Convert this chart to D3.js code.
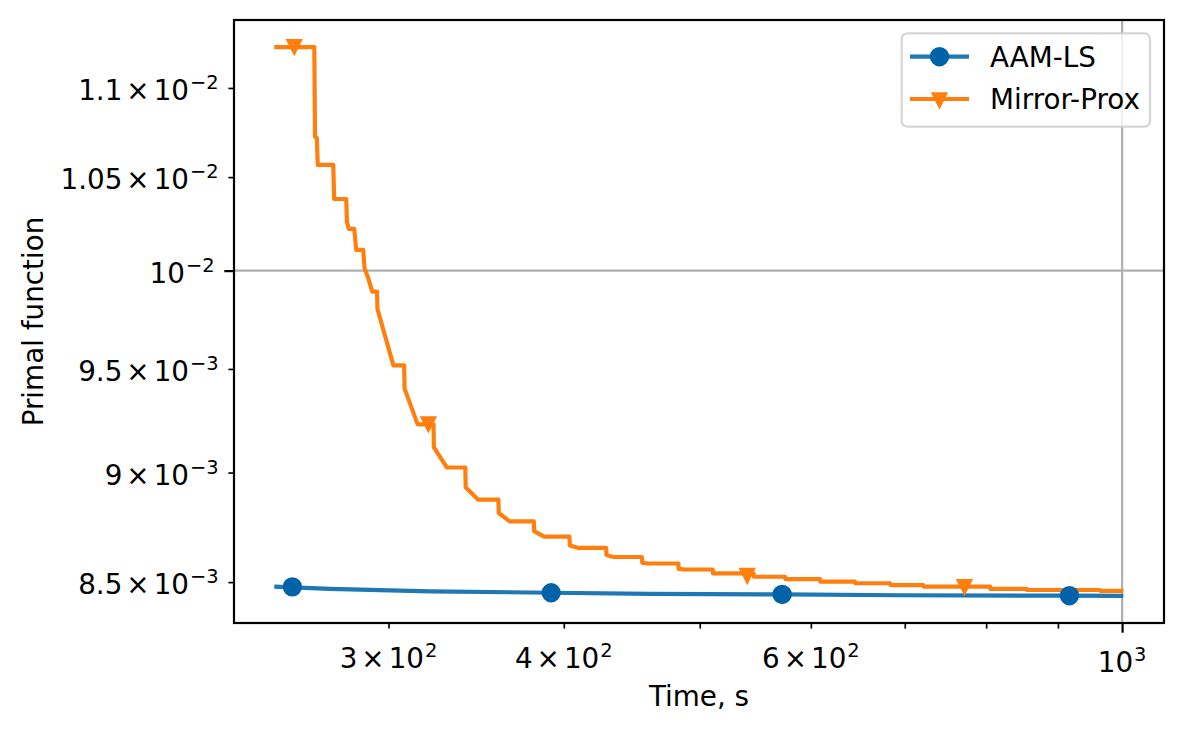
<!DOCTYPE html>
<html lang="en">
<head>
  <meta charset="UTF-8">
  <title>Primal function vs time</title>
  <script src="https://d3js.org/d3.v7.min.js"></script>
  <style>
    body {
      margin: 0;
      background: #fff;
      font-family: "DejaVu Sans", sans-serif;
    }

    svg {
      display: block;
    }

    text {
      font-family: "DejaVu Sans", sans-serif;
      fill: #000;
    }
  </style>
</head>
<body>
  <svg id="chart"></svg>
  <script>
    // Series (time in s, primal function value)
    const seriesNames = ["AAM-LS", "Mirror-Prox"];

    const aamTime = [248.7, 272.5, 321.2, 391.8, 461.0, 572.4, 694.6, 917.0, 1002.0];
    const aamValue = [0.008480, 0.008470, 0.008459, 0.008453, 0.008448, 0.0084455, 0.008442, 0.008440, 0.008439];
    const aamMarkerTime = [256.2, 391.8, 572.4, 917.2];
    const aamMarkerValue = [0.008479, 0.008453, 0.0084455, 0.008440];

    const mpTime = [
      248.7, 265.6, 265.9, 266.7, 267.1, 274.0, 274.4, 279.9, 280.2, 281.1,
      283.6, 284.5, 287.8, 288.4, 290.2, 292.1, 294.4, 294.6, 302.4, 307.8,
      308.0, 314.7, 323.0, 323.2, 330.1, 340.3, 340.5, 347.4, 359.3, 359.5,
      366.0, 380.8, 381.0, 387.3, 403.7, 404.0, 409.7, 428.8, 429.0, 433.7,
      454.7, 455.0, 459.6, 482.8, 483.0, 488.2, 510.7, 511.0, 546.1, 546.3,
      575.2, 575.5, 609.1, 609.4, 645.1, 645.4, 683.3, 683.6, 721.7, 722.0,
      805.3, 805.6, 855.2, 855.5, 964.5, 964.8, 1002.1
    ];
    const mpValue = [
      0.011237, 0.011237, 0.010724, 0.010717, 0.010567, 0.010567, 0.010381, 0.010381, 0.010257, 0.010220,
      0.010220, 0.010109, 0.010109, 0.010013, 0.009960, 0.009891, 0.009891, 0.009802, 0.009518, 0.009518,
      0.009403, 0.009229, 0.009229, 0.009119, 0.009024, 0.009024, 0.008931, 0.008874, 0.008874, 0.008812,
      0.008774, 0.008774, 0.008729, 0.008704, 0.008704, 0.008664, 0.008653, 0.008653, 0.008621, 0.008612,
      0.008612, 0.008586, 0.008583, 0.008583, 0.008559, 0.008556, 0.008556, 0.008539, 0.008539, 0.008524,
      0.008524, 0.008513, 0.008513, 0.008502, 0.008502, 0.008495, 0.008495, 0.008487, 0.008487, 0.008480,
      0.008480, 0.008470, 0.008470, 0.008465, 0.008465, 0.008461, 0.008461
    ];
    const mpMarkerTime = [257.0, 320.3, 540.5, 772.0];
    const mpMarkerValue = [0.011237, 0.009229, 0.008527, 0.008478];

    // Ticks: [value, mantissa, exponent]; mantissa "" means plain power of ten
    const xMinorTicks = [300, 400, 500, 600, 700, 800, 900];
    const xMajorTicks = [1000];
    const xTickLabels = [[300, "3", "2"], [400, "4", "2"], [600, "6", "2"], [1000, "", "3"]];
    const yMinorTicks = [0.0085, 0.009, 0.0095, 0.0105, 0.011];
    const yMajorTicks = [0.01];
    const yTickLabels = [
      [0.0085, "8.5", "\u22123"], [0.009, "9", "\u22123"], [0.0095, "9.5", "\u22123"],
      [0.01, "", "\u22122"], [0.0105, "1.05", "\u22122"], [0.011, "1.1", "\u22122"]
    ];

    const width = 1184;
    const height = 732;
    const plot = { left: 234, right: 1164, top: 20, bottom: 623 };
    const fs = 27.8;            // 10pt at 200 dpi
    const majorLen = 9.7, minorLen = 5.6, tickPad = 9.7;
    const blue = "#1f77b4", blueMarker = "#0063a8", orange = "#ff7f0e";

    const svg = d3.select("#chart").attr("width", width).attr("height", height);

    const x = d3.scaleLog().domain([232.8, 1071.2]).range([plot.left, plot.right]);
    const y = d3.scaleLog().domain([0.0083206, 0.011397]).range([plot.bottom, plot.top]);

    // grid (major only)
    svg.append("g").selectAll("line").data(xMajorTicks).join("line")
      .attr("x1", d => x(d)).attr("x2", d => x(d))
      .attr("y1", plot.top).attr("y2", plot.bottom)
      .attr("stroke", "#b0b0b0").attr("stroke-width", 2.2);
    svg.append("g").selectAll("line").data(yMajorTicks).join("line")
      .attr("y1", d => y(d)).attr("y2", d => y(d))
      .attr("x1", plot.left).attr("x2", plot.right)
      .attr("stroke", "#b0b0b0").attr("stroke-width", 2.2);

    // lines
    const line = d3.line().x(d => x(d[0])).y(d => y(d[1]));
    const aam = aamTime.map((t, i) => [t, aamValue[i]]);
    const mp = mpTime.map((t, i) => [t, mpValue[i]]);

    svg.append("path").datum(aam)
      .attr("d", line).attr("fill", "none")
      .attr("stroke", blue).attr("stroke-width", 4.17)
      .attr("stroke-linejoin", "round");
    svg.append("path").datum(mp)
      .attr("d", line).attr("fill", "none")
      .attr("stroke", orange).attr("stroke-width", 4.17)
      .attr("stroke-linejoin", "round");

    // markers
    const tri = s => `M0,${s}L${-s},${-s}L${s},${-s}Z`;
    svg.append("g").selectAll("circle")
      .data(aamMarkerTime.map((t, i) => [t, aamMarkerValue[i]]))
      .join("circle")
      .attr("cx", d => x(d[0])).attr("cy", d => y(d[1]))
      .attr("r", 8.4).attr("fill", blueMarker)
      .attr("stroke", blueMarker).attr("stroke-width", 2.6);
    svg.append("g").selectAll("path")
      .data(mpMarkerTime.map((t, i) => [t, mpMarkerValue[i]]))
      .join("path")
      .attr("transform", d => `translate(${x(d[0])},${y(d[1])})`)
      .attr("d", tri(7.4)).attr("fill", orange)
      .attr("stroke", orange).attr("stroke-width", 1.6);

    // frame
    svg.append("rect")
      .attr("x", plot.left).attr("y", plot.top)
      .attr("width", plot.right - plot.left).attr("height", plot.bottom - plot.top)
      .attr("fill", "none").attr("stroke", "#000").attr("stroke-width", 2.2);

    // tick marks
    function ticks(axis, vals, len, w, transform) {
      const g = svg.append("g").attr("transform", transform)
        .call(axis.tickValues(vals).tickSize(len).tickFormat(() => ""));
      g.select(".domain").remove();
      g.selectAll(".tick line").attr("stroke", "#000").attr("stroke-width", w);
    }
    ticks(d3.axisBottom(x), xMinorTicks, minorLen, 1.67, `translate(0,${plot.bottom})`);
    ticks(d3.axisBottom(x), xMajorTicks, majorLen, 2.2, `translate(0,${plot.bottom})`);
    ticks(d3.axisLeft(y), yMinorTicks, minorLen, 1.67, `translate(${plot.left},0)`);
    ticks(d3.axisLeft(y), yMajorTicks, majorLen, 2.2, `translate(${plot.left},0)`);

    // mathtext-like labels  m × 10^e
    function sciLabel(t, m, e) {
      if (m !== "") {
        t.append("tspan").text(m);
        t.append("tspan").attr("dx", 4).text("\u00d7");
        t.append("tspan").attr("dx", 4).text("10");
      } else {
        t.append("tspan").text("10");
      }
      t.append("tspan").attr("dx", 1).attr("dy", -11)
        .attr("font-size", fs * 0.7).text(e);
    }

    svg.append("g").selectAll("text").data(xTickLabels).join("text")
      .attr("x", d => x(d[0]))
      .attr("y", d => plot.bottom + (xMajorTicks.includes(d[0]) ? majorLen : minorLen) + tickPad + 29.7)
      .attr("text-anchor", "middle")
      .attr("font-size", fs)
      .each(function (d) { sciLabel(d3.select(this), d[1], d[2]); });

    svg.append("g").selectAll("text").data(yTickLabels).join("text")
      .attr("x", d => plot.left - (yMajorTicks.includes(d[0]) ? majorLen : minorLen) - tickPad)
      .attr("y", d => y(d[0]) + 12)
      .attr("text-anchor", "end")
      .attr("font-size", fs)
      .each(function (d) { sciLabel(d3.select(this), d[1], d[2]); });

    // axis titles
    svg.append("text")
      .attr("x", (plot.left + plot.right) / 2).attr("y", 706)
      .attr("text-anchor", "middle").attr("font-size", fs)
      .text("Time, s");
    svg.append("text")
      .attr("transform", `translate(42.5,${(plot.top + plot.bottom) / 2}) rotate(-90)`)
      .attr("text-anchor", "middle").attr("font-size", fs)
      .text("Primal function");

    // legend
    const legend = svg.append("g");
    legend.append("rect")
      .attr("x", 901.7).attr("y", 33.3).attr("width", 248.3).attr("height", 93.4)
      .attr("rx", 5.5).attr("fill", "#fff").attr("fill-opacity", 0.8)
      .attr("stroke", "#cccccc").attr("stroke-opacity", 0.8).attr("stroke-width", 2.2);

    const legendColors = [blue, orange];
    const legendRows = legend.selectAll("g.row").data(seriesNames).join("g")
      .attr("class", "row")
      .attr("transform", (d, i) => `translate(0,${56.7 + i * 42.3})`);
    legendRows.append("line")
      .attr("x1", 910).attr("x2", 969).attr("y1", 0).attr("y2", 0)
      .attr("stroke", (d, i) => legendColors[i]).attr("stroke-width", 4.17);
    legendRows.filter((d, i) => i === 0).append("circle")
      .attr("cx", 939.5).attr("cy", 0).attr("r", 8.4)
      .attr("fill", blueMarker).attr("stroke", blueMarker).attr("stroke-width", 2.6);
    legendRows.filter((d, i) => i === 1).append("path")
      .attr("transform", "translate(939.5,1.5)")
      .attr("d", tri(7.4)).attr("fill", orange)
      .attr("stroke", orange).attr("stroke-width", 1.6);
    legendRows.append("text")
      .attr("x", 990).attr("y", 10)
      .attr("font-size", fs)
      .text(d => d);
  </script>
</body>
</html>
